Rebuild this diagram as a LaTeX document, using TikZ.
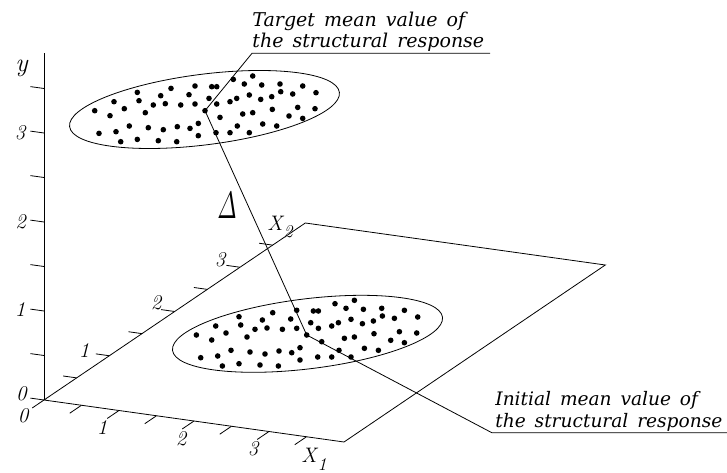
\documentclass[tikz,border=0pt]{standalone}
\usepackage{fontspec}
\usepackage{amsmath}
\newfontfamily\callfont{DejaVu Serif}[WordSpace=1.5]
\def\dotlist{28.3/-31.3, 47.7/-34.7, 39.3/-26.7, 56.7/-25.7, 75/-26.7, 97.7/-24.7, 111/-18, 87.7/-16.7, 75.7/-19, 66.7/-14, 55.7/-11.3, 44.3/-15.7, 31.7/-12.3, 25/-9, 11.7/-24, 6.7/-24, -10/-24.7, -34/-22.3, -67.7/-18.3, -44.3/-15, -16/-16, 4/-12.3, 11.7/-6.7, -10/-6.7, -24.3/-5.7, -39.7/-7, -51.7/-5.7, -66/-10, -91/-9, -80.7/-2, -110.3/0, -95/5, -59.7/2, 0/0, 15/6.7, 37.7/3.3, 47.7/2, 67.3/-1.3, 92.7/-3.3, 110/-2, 84/5.3, 97.7/7.7, 57.7/13.3, 71.7/15.3, 32.3/15.3, 25/22, 44.3/22, 11/22, -6.7/12.7, -6.7/25, -15/17.7, -27.7/16, -41.7/19, -56.7/17, -75.7/15.3, -89/21, -106/22.7, -84.3/31, -67.7/28.7, -46.7/30, -28.3/31}
\newcommand{\axsub}[2]{#1\kern1pt\raisebox{-#2}{\fontsize{18}{18}\selectfont\itshape 1}}
\begin{document}
\begin{tikzpicture}[x=1pt,y=-1pt, line width=0.8pt,
  ticklab/.style={font=\fontsize{21}{21}\selectfont\itshape, inner sep=0pt},
  axlab/.style={font=\fontsize{21}{21}\selectfont\itshape, inner sep=0pt, anchor=base west},
  calltext/.style={font=\callfont\itshape\fontsize{19}{21}\selectfont, inner sep=0pt, anchor=base west},
  calltextb/.style={font=\callfont\itshape\fontsize{18.6}{22}\selectfont, inner sep=0pt, anchor=base west},
  cloud/.style={line width=0.8pt}
]
\useasboundingbox (0,0) rectangle (727,473);

% axes and plane in 3D frame
\begin{scope}[shift={(44,400)}, x={(75pt,-10.5pt)}, y={(65.33pt,44.25pt)}, z={(0pt,89pt)}]
  \coordinate (O) at (0,0,0);
  \coordinate (X1e) at (4,0,0);
  \coordinate (X2e) at (0,4,0);
  \coordinate (PC) at (4,4,0);
  \coordinate (Ye) at (0,0,3.9);
  \foreach \t in {0,0.5,...,3.5} \draw (0,0,\t) -- ++(-0.18,0,0);
  \foreach \t in {0.5,1,...,3.5} \draw (0,\t,0) -- ++(-0.18,0,0);
  \foreach \t in {0,0.5,...,3.5} \draw (\t,0,0) -- ++(0,-0.18,0);
\end{scope}
\draw (O) -- (X1e) -- (PC) -- (X2e) -- cycle;
\draw (O) -- (Ye);

% y labels
\node[ticklab] (y0) at (21.5,394) {0};
\node[ticklab] (y1) at (20,310) {1};
\node[ticklab] (y2) at (20.5,222) {2};
\node[ticklab] (y3) at (20,133) {3};
\node[font=\fontsize{26}{26}\selectfont\itshape, inner sep=0pt] (ylab) at (21.5,68) {y};
% x2 labels
\node[ticklab] (a1) at (84,351) {1};
\node[ticklab] (a2) at (156,303) {2};
\node[ticklab] (a3) at (220,260) {3};
\node[axlab] (x2lab) at (267,230) {X\kern1pt\raisebox{-7.5pt}{\fontsize{18}{18}\selectfont\itshape 2}};
% x1 labels
\node[ticklab] (b0) at (23,416) {0};
\node[ticklab] (b1) at (102,428) {1};
\node[ticklab] (b2) at (181,439) {2};
\node[ticklab] (b3) at (253,449) {3};
\node[axlab] (x1lab) at (301,462.5) {X\kern1pt\raisebox{-7.5pt}{\fontsize{18}{18}\selectfont\itshape 1}};
% Delta
\node[inner sep=0pt] (delta) at (227,206) {\scalebox{2.3}[3.8]{$\varDelta$}};

% clouds
\coordinate (Mtop) at (205,110.7);
\coordinate (Mbot) at (306.7,335);
\coordinate (Ctop) at (204.5,109.5);
\coordinate (Cbot) at (307.5,333.8);
\draw[cloud, rotate around={7.25:(Ctop)}] (Ctop) ellipse [x radius=136pt, y radius=35.3pt];
\draw[cloud, rotate around={7:(Cbot)}] (Cbot) ellipse [x radius=136pt, y radius=35pt];
\foreach \m in {Mtop,Mbot} {
  \begin{scope}[shift={(\m)}]
    \foreach \dx/\dy in \dotlist { \fill (\dx,\dy) circle[radius=2.8pt]; }
  \end{scope}
}

% leaders
\coordinate (Ka) at (490,53.3);
\coordinate (Kb) at (252,53.3);
\coordinate (Kc) at (492,432.8);
\coordinate (Kd) at (727,432.8);
\draw (Ka) -- (Kb) -- (Mtop) -- (Mbot) -- (Kc) -- (Kd);

\node[calltext] (ttop) at (252,26.3) {\begin{tabular}[t]{@{}l@{}}Target mean value of\\the structural response\end{tabular}};
\node[calltextb] (tbot) at (495,405.5) {\begin{tabular}[t]{@{}l@{}}Initial mean value of\\the structural response\end{tabular}};
\end{tikzpicture}
\end{document}
